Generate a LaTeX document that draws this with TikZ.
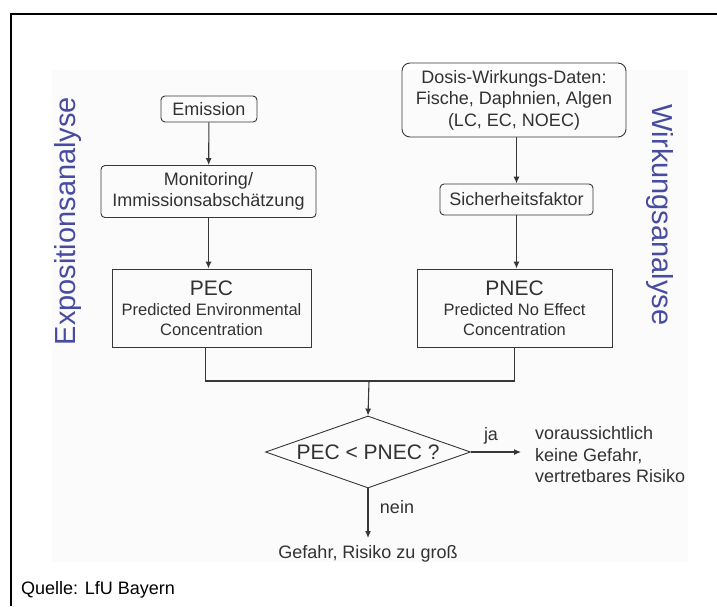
\documentclass[tikz,border=0pt]{standalone}
\usepackage{fontspec}
\setmainfont{Liberation Sans}
\usetikzlibrary{shapes.geometric,arrows.meta}
\definecolor{ink}{RGB}{50,50,50}
\definecolor{lineink}{RGB}{55,55,55}
\definecolor{sidebl}{RGB}{72,76,160}
\definecolor{faint}{RGB}{251,251,251}
\tikzset{
  rbox/.style={draw=lineink, line width=0.9pt, rounded corners=4pt, align=center, text=ink, inner sep=0pt, font=\fontsize{18}{21.5}\selectfont},
  sbox/.style={draw=lineink, line width=0.9pt, align=center, text=ink, inner sep=0pt, font=\fontsize{16.5}{20}\selectfont},
  arr/.style={draw=lineink, line width=1.1pt, -{Latex[length=7pt,width=6pt]}},
  conn/.style={draw=lineink, line width=1.1pt},
  lbl/.style={text=ink, inner sep=0pt, font=\fontsize{18}{21.5}\selectfont},
  side/.style={text=sidebl, inner sep=0pt, font=\fontsize{29}{32}\selectfont}
}
\begin{document}
\begin{tikzpicture}[x=1pt,y=-1pt]
\useasboundingbox (0,0) rectangle (717,606);
\fill[white] (0,0) rectangle (717,606);
\fill[faint] (52,70) rectangle (688,562);
\draw[black, line width=2pt] (11,606) -- (11,14) -- (717,14);

\node[rbox, minimum width=96, minimum height=26] (em) at (209,109) {Emission};
\node[rbox, minimum width=215, minimum height=52] (mon) at (208.5,191.5) {Monitoring/\\Immissionsabschätzung};
\node[sbox, minimum width=199, minimum height=78] (pec) at (211.5,308) {{\fontsize{21}{24}\selectfont PEC}\\Predicted Environmental\\Concentration};

\node[rbox, rounded corners=8pt, minimum width=224, minimum height=74] (dos) at (514,100) {Dosis-Wirkungs-Daten:\\Fische, Daphnien, Algen\\(LC, EC, NOEC)};
\node[rbox, minimum width=153, minimum height=31] (sich) at (516.5,199.5) {Sicherheitsfaktor};
\node[sbox, minimum width=195, minimum height=78] (pnec) at (514.5,308) {{\fontsize{21}{24}\selectfont PNEC}\\Predicted No Effect\\Concentration};

\node[diamond, draw=lineink, line width=0.9pt, aspect=2.85, inner sep=0pt, minimum width=205, minimum height=72, text=ink, font=\fontsize{21}{24}\selectfont] (dia) at (368,452) {PEC < PNEC ?};

\coordinate (j) at (369,381);
\node[lbl, align=left, anchor=west] (ok) at (535,455) {voraussichtlich\\keine Gefahr,\\vertretbares Risiko};
\node[lbl, anchor=north] (bad) at (368,545) {Gefahr, Risiko zu groß};
\node[lbl] (ja) at (491,436) {ja};
\node[lbl] (nein) at (397,507) {nein};

\node[side, rotate=90] (expo) at (68,221) {Expositionsanalyse};
\node[side, rotate=-90] (wirk) at (660,215) {Wirkungsanalyse};

\node[anchor=west, inner sep=0pt, font=\fontsize{18}{21}\selectfont] (src) at (21,590) {Quelle: LfU Bayern};

\draw[arr] (em) -- (mon);
\draw[arr] (mon.south) -- (mon.south |- pec.north);
\draw[arr] (dos.south -| sich) -- (sich);
\draw[arr] (sich.south) -- (sich.south |- pnec.north);
\draw[conn] ([xshift=-6pt]pec.south) |- (j);
\draw[conn] (pnec.south) |- (j);
\draw[arr] (j) -- (dia.north);
\draw[arr, shorten >=14pt] (dia.east) -- (dia.east -| ok.west);
\draw[arr, shorten >=7pt] (dia.south) -- (bad.north);
\end{tikzpicture}
\end{document}
